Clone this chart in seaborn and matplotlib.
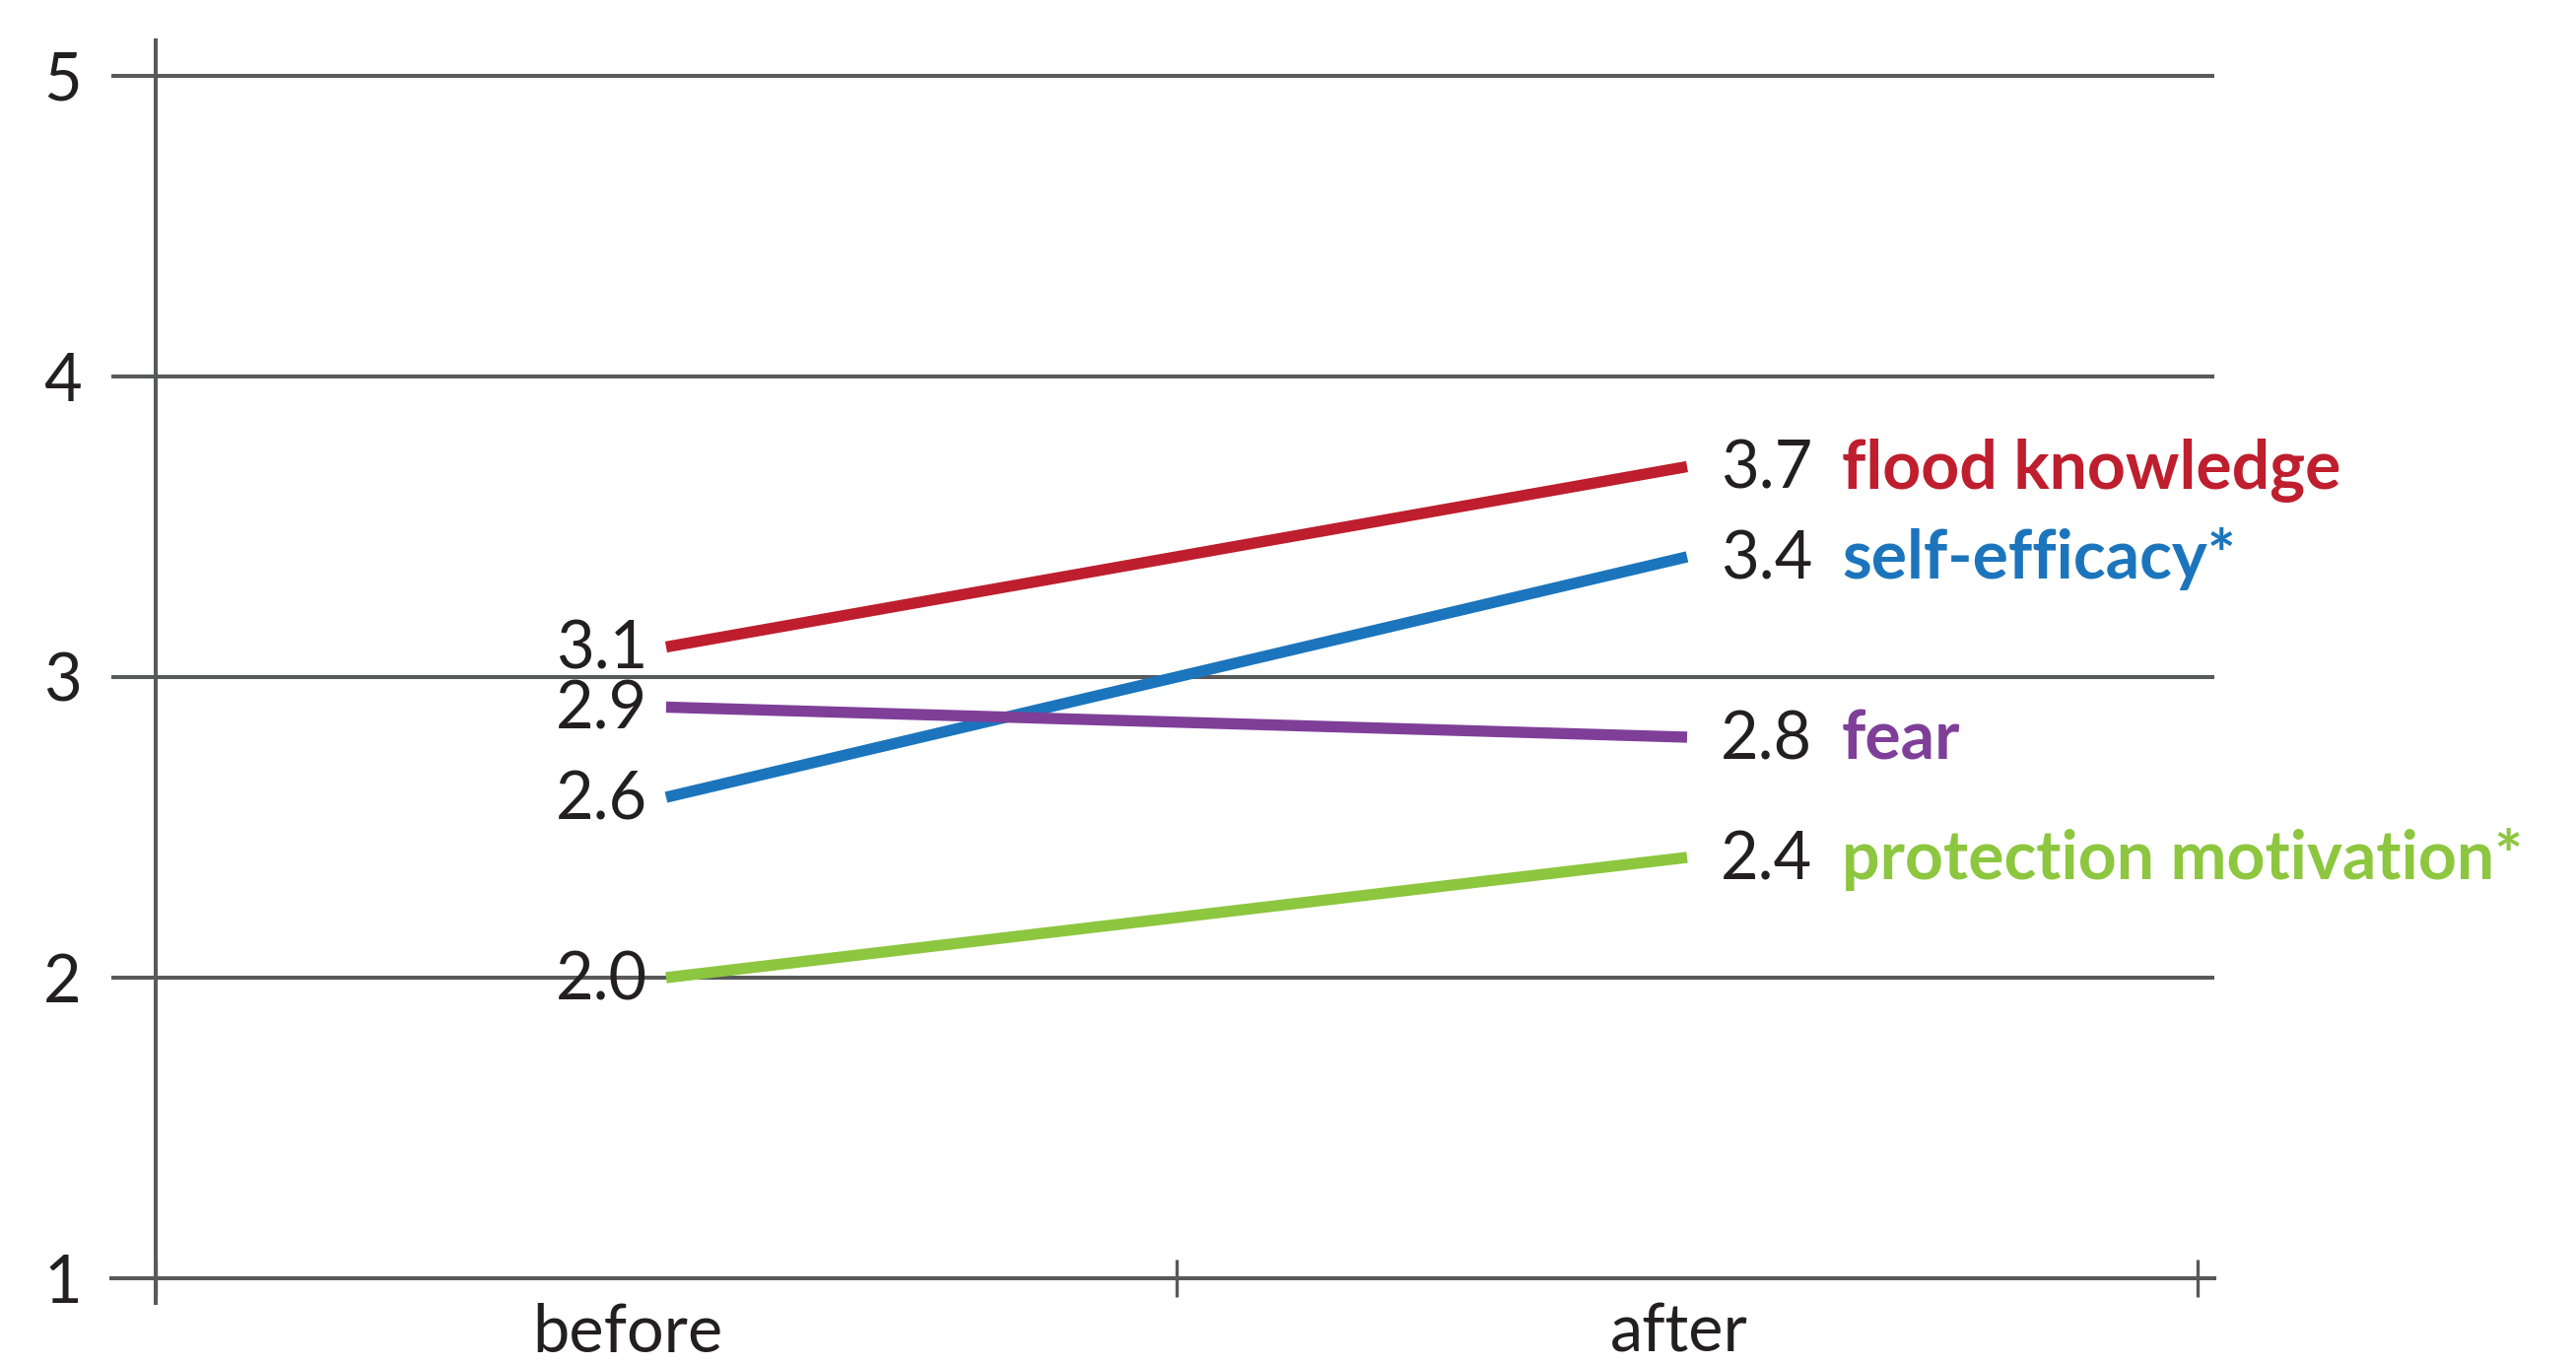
import matplotlib
matplotlib.use("Agg")
import matplotlib.pyplot as plt
import matplotlib.transforms as mtransforms
import seaborn as sns
import pandas as pd
import numpy as np

# data
stages = ["before", "after"]
measures = ["flood knowledge", "self-efficacy*", "fear", "protection motivation*"]
before_vals = [3.1, 2.6, 2.9, 2.0]
after_vals = [3.7, 3.4, 2.8, 2.4]
colors = ["#BE1E2D", "#1C75BC", "#7F3F98", "#8DC63F"]
y_ticks = [1, 2, 3, 4, 5]

grey = "#58595B"
ink = "#231F20"
fs = 24

rows = []
for m, b, a in zip(measures, before_vals, after_vals):
    rows.append({"measure": m, "stage": 0, "score": b})
    rows.append({"measure": m, "stage": 1, "score": a})
df = pd.DataFrame(rows)

sns.set_theme(style="white")
plt.rcParams["font.family"] = ["Lato", "DejaVu Sans"]

fig = plt.figure(figsize=(13.07, 6.92), dpi=200)
ax = fig.add_axes([0.0432, 0.0448, 0.8164, 0.9256])

sns.lineplot(data=df, x="stage", y="score", hue="measure",
             palette=dict(zip(measures, colors)), linewidth=4.1,
             solid_capstyle="butt", legend=False, sort=False, ax=ax)

ax.set_xlim(-0.5434, 1.5164)
ax.set_ylim(0.918, 5.118)

# value labels and series names
for m, b, a, c in zip(measures, before_vals, after_vals, colors):
    ax.annotate(f"{b:.1f}", xy=(0, b), xytext=(-6.8, -8), textcoords="offset points",
                ha="right", va="baseline", fontsize=fs, color=ink)
    ax.annotate(f"{a:.1f}", xy=(1, a), xytext=(12.2, -8), textcoords="offset points",
                ha="left", va="baseline", fontsize=fs, color=ink)
    ax.annotate(m, xy=(1, a), xytext=(56.5, -8), textcoords="offset points",
                ha="left", va="baseline", fontsize=fs + 0.5, color=c, fontweight="bold")

# axes styling
ax.set_yticks(y_ticks)
ax.set_yticklabels([str(t) for t in y_ticks])
ax.grid(axis="y", color=grey, linewidth=1.45)
ax.set_axisbelow(True)

ax.set_xticks(range(len(stages)))
ax.set_xticklabels(stages)
ax.set_xticks(np.arange(len(stages) + 1) - 0.5, minor=True)

for s in ["top", "right"]:
    ax.spines[s].set_visible(False)
ax.spines["left"].set_position(("data", -0.5))
ax.spines["bottom"].set_position(("data", 1))
for s in ["left", "bottom"]:
    ax.spines[s].set_color(grey)
    ax.spines[s].set_linewidth(1.45)

ax.tick_params(axis="y", length=0, pad=27, labelsize=fs, labelcolor=ink)
ax.tick_params(axis="x", which="major", length=0, pad=9, labelsize=fs, labelcolor=ink)
ax.tick_params(axis="x", which="minor", bottom=True, direction="inout",
               length=14, width=1.2, color=grey)
ax.set_xlabel("")
ax.set_ylabel("")

# nudge the stage labels to where the original places them
for lab, dx in zip(ax.get_xticklabels(), [-14, -3]):
    lab.set_transform(lab.get_transform() +
                      mtransforms.ScaledTranslation(dx / 72, 0, fig.dpi_scale_trans))

fig.savefig("out.png", dpi=200)
